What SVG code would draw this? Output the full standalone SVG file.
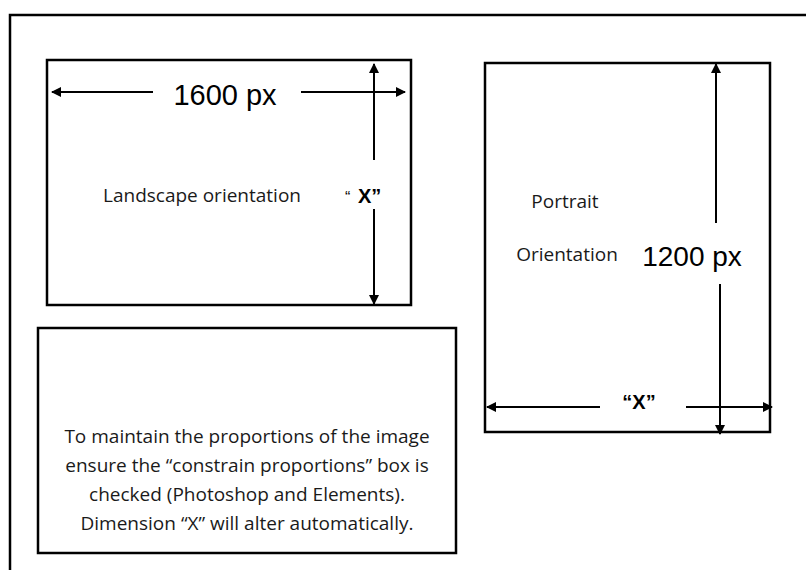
<svg xmlns="http://www.w3.org/2000/svg" width="806" height="570" viewBox="0 0 806 570">
<defs>
<marker id="ah" viewBox="0 0 10 10" refX="9" refY="5" markerWidth="10" markerHeight="10" markerUnits="userSpaceOnUse" orient="auto">
<path d="M0,0 L10,5 L0,10 z" fill="#000"/>
</marker>
</defs>
<style>
.box{fill:none;stroke:#000;stroke-width:2.5}
.ar{stroke:#000;stroke-width:2;fill:none;marker-end:url(#ah)}
.cal{font-family:"Open Sans","Noto Sans",sans-serif;fill:#1a1a1a}
.ari{font-family:"Liberation Sans",Arial,sans-serif;fill:#000}
</style>
<rect width="806" height="570" fill="#fff"/>
<path d="M806,15 H10 V570" fill="none" stroke="#000" stroke-width="2.5"/>
<g id="landscape">
<rect class="box" x="47" y="60" width="364" height="245"/>
<text class="cal" x="202" y="202" font-size="19" text-anchor="middle">Landscape orientation</text>
<text class="ari" x="225" y="105" font-size="29" text-anchor="middle">1600 px</text>
<text class="ari" x="345" y="203" font-size="16">“</text>
<text class="ari" x="358" y="203" font-size="20" font-weight="bold">X”</text>
</g>
<g id="portrait">
<rect class="box" x="485" y="63" width="285" height="369"/>
<text class="cal" x="565" y="208" font-size="19" text-anchor="middle">Portrait</text>
<text class="cal" x="567" y="261" font-size="19" text-anchor="middle">Orientation</text>
<text class="ari" x="692" y="266" font-size="28" text-anchor="middle">1200 px</text>
<text class="ari" x="639" y="409" font-size="20" font-weight="bold" text-anchor="middle">“X”</text>
</g>
<g id="note">
<rect class="box" x="38" y="328" width="418" height="225"/>
<g class="cal" font-size="19" text-anchor="middle">
<text x="247" y="443">To maintain the proportions of the image</text>
<text x="247" y="472">ensure the “constrain proportions” box is</text>
<text x="247" y="501">checked (Photoshop and Elements).</text>
<text x="247" y="530">Dimension “X” will alter automatically.</text>
</g>
</g>
<g id="connectors">
<path class="ar" d="M153,92 H52"/>
<path class="ar" d="M301,92 H405"/>
<path class="ar" d="M374,160 V64"/>
<path class="ar" d="M374,209 V304"/>
<path class="ar" d="M716,223 V64"/>
<path class="ar" d="M720,284 V434"/>
<path class="ar" d="M600,407 H487"/>
<path class="ar" d="M686,407 H772"/>
</g>
</svg>
